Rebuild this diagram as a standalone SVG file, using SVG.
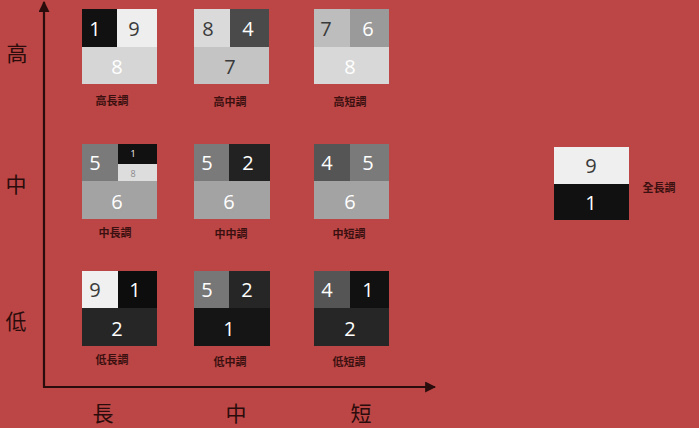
<svg xmlns="http://www.w3.org/2000/svg" width="699" height="428" viewBox="0 0 699 428">
<defs>
<style>
.n{font-family:"Open Sans","Noto Sans",sans-serif;font-size:20px;text-anchor:middle;dominant-baseline:central}
.s{font-size:9px}
.w{fill:#ffffff}
.d{fill:#3a3a3a}
.g{fill:#8a8a8a}
.lb{font-family:"Noto Sans CJK TC","Noto Sans CJK SC",serif;font-size:11px;font-weight:bold;fill:#3a1010;text-anchor:middle;dominant-baseline:central}
.ax{font-family:"Noto Sans CJK TC","Noto Sans CJK SC",serif;font-size:21px;fill:#2a0c0c;text-anchor:middle;dominant-baseline:central}
.axis{stroke:#2a0c0c;stroke-width:2.2;fill:none}
</style>
<marker id="ah" viewBox="0 0 10 10" refX="9" refY="5" markerWidth="5" markerHeight="5" orient="auto" markerUnits="strokeWidth">
<path d="M0,0 L10,5 L0,10 z" fill="#2a0c0c"/>
</marker>
</defs>
<rect width="699" height="428" fill="#bc4645"/>
<g id="axes">
<path class="axis" d="M44,387 L44,2" marker-end="url(#ah)"/>
<path class="axis" d="M43,387 L435,387" marker-end="url(#ah)"/>
</g>
<g id="axis-labels">
<text class="ax" x="17" y="52">高</text>
<text class="ax" x="16" y="183">中</text>
<text class="ax" x="16" y="320">低</text>
<text class="ax" x="103" y="412">長</text>
<text class="ax" x="236" y="412">中</text>
<text class="ax" x="361" y="412">短</text>
</g>
<g id="high-long">
<rect x="82" y="9" width="35" height="38" fill="#111111"/>
<rect x="117" y="9" width="40" height="38" fill="#eeeeee"/>
<rect x="82" y="47" width="75" height="37" fill="#d6d6d6"/>
<text class="n w" x="95" y="28">1</text>
<text class="n d" x="134" y="28">9</text>
<text class="n w" x="117" y="66">8</text>
<text class="lb" x="112" y="100">高長調</text>
</g>
<g id="high-mid">
<rect x="194" y="9" width="36" height="38" fill="#dadada"/>
<rect x="230" y="9" width="39" height="38" fill="#4a4a4a"/>
<rect x="194" y="47" width="75" height="37" fill="#c4c4c4"/>
<text class="n d" x="208" y="28">8</text>
<text class="n w" x="248" y="28">4</text>
<text class="n d" x="230" y="66">7</text>
<text class="lb" x="230" y="101">高中調</text>
</g>
<g id="high-short">
<rect x="314" y="9" width="36" height="38" fill="#bdbdbd"/>
<rect x="350" y="9" width="39" height="38" fill="#9a9a9a"/>
<rect x="314" y="47" width="75" height="37" fill="#d8d8d8"/>
<text class="n d" x="326" y="28">7</text>
<text class="n w" x="368" y="28">6</text>
<text class="n w" x="350" y="66">8</text>
<text class="lb" x="350" y="101">高短調</text>
</g>
<g id="mid-long">
<rect x="82" y="144" width="36" height="37" fill="#7a7a7a"/>
<rect x="118" y="144" width="39" height="20" fill="#111111"/>
<rect x="118" y="164" width="39" height="17" fill="#dddddd"/>
<rect x="82" y="181" width="75" height="38" fill="#a3a3a3"/>
<text class="n w" x="95" y="162">5</text>
<text class="n s w" x="133" y="153">1</text>
<text class="n s g" x="133" y="173">8</text>
<text class="n w" x="117" y="201">6</text>
<text class="lb" x="115" y="232">中長調</text>
</g>
<g id="mid-mid">
<rect x="194" y="144" width="35" height="37" fill="#7a7a7a"/>
<rect x="229" y="144" width="41" height="37" fill="#222222"/>
<rect x="194" y="181" width="76" height="38" fill="#a3a3a3"/>
<text class="n w" x="207" y="162">5</text>
<text class="n w" x="248" y="162">2</text>
<text class="n w" x="229" y="201">6</text>
<text class="lb" x="231" y="233">中中調</text>
</g>
<g id="mid-short">
<rect x="314" y="144" width="36" height="37" fill="#555555"/>
<rect x="350" y="144" width="39" height="37" fill="#7a7a7a"/>
<rect x="314" y="181" width="75" height="38" fill="#a3a3a3"/>
<text class="n w" x="327" y="162">4</text>
<text class="n w" x="368" y="162">5</text>
<text class="n w" x="350" y="201">6</text>
<text class="lb" x="349" y="233">中短調</text>
</g>
<g id="low-long">
<rect x="82" y="271" width="36" height="37" fill="#f0f0f0"/>
<rect x="118" y="271" width="39" height="37" fill="#0d0d0d"/>
<rect x="82" y="308" width="75" height="38" fill="#262626"/>
<text class="n d" x="95" y="289">9</text>
<text class="n w" x="135" y="289">1</text>
<text class="n w" x="117" y="328">2</text>
<text class="lb" x="112" y="359">低長調</text>
</g>
<g id="low-mid">
<rect x="194" y="271" width="35" height="37" fill="#777777"/>
<rect x="229" y="271" width="41" height="37" fill="#262626"/>
<rect x="194" y="308" width="76" height="38" fill="#151515"/>
<text class="n w" x="207" y="289">5</text>
<text class="n w" x="247" y="289">2</text>
<text class="n w" x="229" y="328">1</text>
<text class="lb" x="230" y="361">低中調</text>
</g>
<g id="low-short">
<rect x="314" y="271" width="36" height="37" fill="#555555"/>
<rect x="350" y="271" width="39" height="37" fill="#111111"/>
<rect x="314" y="308" width="75" height="38" fill="#262626"/>
<text class="n w" x="327" y="289">4</text>
<text class="n w" x="368" y="289">1</text>
<text class="n w" x="350" y="328">2</text>
<text class="lb" x="349" y="361">低短調</text>
</g>
<g id="full-long">
<rect x="554" y="147" width="75" height="37" fill="#efefef"/>
<rect x="554" y="184" width="75" height="36" fill="#111111"/>
<text class="n d" x="591" y="165">9</text>
<text class="n w" x="591" y="202">1</text>
<text class="lb" x="659" y="187">全長調</text>
</g>
</svg>
